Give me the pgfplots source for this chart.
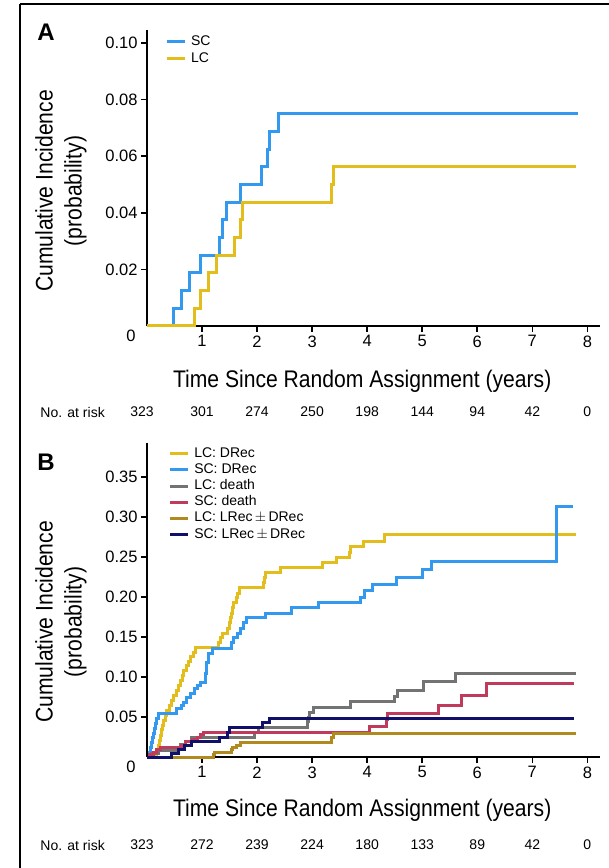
\documentclass[border=0pt]{standalone}
\usepackage{fontspec}
\setmainfont{Liberation Sans}
\newfontfamily\condfont{Liberation Sans}[FakeStretch=0.88]
\usepackage{pgfplots}
\pgfplotsset{compat=1.18}
\definecolor{scblue}{HTML}{3399EE}
\definecolor{lcyellow}{HTML}{E3BD1C}
\definecolor{lcgray}{HTML}{737373}
\definecolor{scred}{HTML}{C03A5C}
\definecolor{lcolive}{HTML}{B08A1E}
\definecolor{scnavy}{HTML}{10106A}
\pgfplotsset{
  kmstyle/.style={
    scale only axis, width=453pt,
    xmin=0, xmax=8.23, ymin=0,
    axis x line*=bottom, axis y line*=left,
    axis line style={-, line width=1.8pt, black},
    tick align=outside, major tick length=6pt,
    tick style={line width=1.6pt, black},
    xtick={1,2,3,4,5,6,7,8},
    extra x ticks={0},
    extra x tick style={major tick length=0pt, tick label style={xshift=-16pt}},
    /pgf/number format/assume math mode=true,
    tick label style={font=\fontsize{16.5}{16.5}\selectfont},
    scaled y ticks=false,
    yticklabel style={/pgf/number format/.cd, fixed, fixed zerofill, precision=2},
    clip=false,
    every axis y label/.style={rotate=90, anchor=center, align=center, font=\condfont\fontsize{24}{29}\selectfont},
    every axis x label/.style={anchor=center, font=\condfont\fontsize{24}{24}\selectfont},
    legend cell align=left,
    legend image code/.code={\draw[#1, line width=3pt] (0pt,0pt) -- (18pt,0pt);},
    legend style={draw=none, fill=none, inner sep=0pt, outer sep=0pt, anchor=north west,
      font=\fontsize{14}{14}\selectfont,
      nodes={inner sep=1pt, text height=10pt, text depth=3pt},
      /tikz/every odd column/.append style={column sep=4pt}},
    const plot, no markers,
    every axis plot/.append style={line width=3pt},
  }
}
\begin{document}
\begin{tikzpicture}
\path[use as bounding box] (0pt,0pt) rectangle (609pt,868pt);
\draw[line width=2pt] (20pt,863.5pt) -- (609pt,863.5pt);
\draw[line width=2pt] (20pt,863.5pt) -- (20pt,0pt);
\node[font=\bfseries\fontsize{24}{24}\selectfont] at (46pt,836pt) {A};
\node[font=\bfseries\fontsize{24}{24}\selectfont] at (46pt,406pt) {B};

% Panel A
\begin{axis}[kmstyle, at={(147pt,542pt)}, anchor=south west, height=296pt,
  ymax=0.1046, ytick={0.02,0.04,0.06,0.08,0.10},
  ylabel={Cumulative Incidence\\(probability)},
  ylabel style={at={(axis description cs:-0.19,0.456)}},
  xlabel={Time Since Random Assignment (years)},
  xlabel style={at={(axis description cs:0.475,-0.186)}},
  legend style={at={(axis description cs:0.04,0.986)}, row sep=2pt}]
\addplot[scblue, line width=3pt] coordinates {(0,0)(0.48,0.00625)(0.63,0.0125)(0.77,0.01875)(0.97,0.025)(1.31,0.03125)(1.38,0.0375)(1.45,0.04375)(1.70,0.05)(2.08,0.05625)(2.19,0.0625)(2.22,0.06875)(2.39,0.075)(7.83,0.075)};
\addlegendentry{SC}
\addplot[lcyellow, line width=3pt] coordinates {(0,0)(0.86,0.00625)(0.97,0.0125)(1.11,0.01875)(1.27,0.025)(1.59,0.03125)(1.69,0.0375)(1.74,0.04375)(3.36,0.05)(3.38,0.05625)(7.79,0.05625)};
\addlegendentry{LC}
\node[font=\fontsize{14}{14}\selectfont, anchor=west] at ([yshift=-86pt]axis description cs:-0.243,0) {No. at risk};
\node[font=\fontsize{14}{14}\selectfont, yshift=-86pt] at (axis cs:-0.09,0) {323};
\node[font=\fontsize{14}{14}\selectfont, yshift=-86pt] at (axis cs:1,0) {301};
\node[font=\fontsize{14}{14}\selectfont, yshift=-86pt] at (axis cs:2,0) {274};
\node[font=\fontsize{14}{14}\selectfont, yshift=-86pt] at (axis cs:3,0) {250};
\node[font=\fontsize{14}{14}\selectfont, yshift=-86pt] at (axis cs:4,0) {198};
\node[font=\fontsize{14}{14}\selectfont, yshift=-86pt] at (axis cs:5,0) {144};
\node[font=\fontsize{14}{14}\selectfont, yshift=-86pt] at (axis cs:6,0) {94};
\node[font=\fontsize{14}{14}\selectfont, yshift=-86pt] at (axis cs:7,0) {42};
\node[font=\fontsize{14}{14}\selectfont, yshift=-86pt] at (axis cs:8,0) {0};
\end{axis}

% Panel B
\begin{axis}[kmstyle, at={(147pt,111pt)}, anchor=south west, height=314pt,
  ymax=0.3925, ytick={0.05,0.10,0.15,0.20,0.25,0.30,0.35},
  ylabel={Cumulative Incidence\\(probability)},
  ylabel style={at={(axis description cs:-0.19,0.43)}},
  xlabel={Time Since Random Assignment (years)},
  xlabel style={at={(axis description cs:0.475,-0.169)}},
  legend style={at={(axis description cs:0.047,0.990)}, row sep=1.2pt}]
\addplot[lcyellow, line width=3pt] coordinates {(0,0)(0.16,0.003)(0.18,0.009)(0.20,0.015)(0.22,0.021)(0.24,0.027)(0.26,0.034)(0.28,0.040)(0.30,0.046)(0.33,0.052)(0.36,0.058)(0.40,0.065)(0.44,0.071)(0.49,0.077)(0.54,0.083)(0.58,0.089)(0.61,0.096)(0.64,0.102)(0.67,0.108)(0.71,0.114)(0.75,0.120)(0.79,0.126)(0.84,0.131)(0.88,0.137)(1.30,0.143)(1.34,0.149)(1.37,0.155)(1.47,0.161)(1.50,0.168)(1.52,0.174)(1.54,0.180)(1.56,0.187)(1.58,0.193)(1.63,0.199)(1.65,0.205)(1.68,0.212)(2.12,0.218)(2.14,0.224)(2.16,0.231)(2.42,0.237)(3.18,0.243)(3.45,0.250)(3.68,0.256)(3.70,0.263)(3.94,0.270)(4.32,0.278)(7.80,0.278)};
\addlegendentry{LC: DRec}
\addplot[scblue, line width=3pt] coordinates {(0,0)(0.04,0.006)(0.06,0.012)(0.08,0.018)(0.10,0.024)(0.12,0.030)(0.14,0.036)(0.16,0.042)(0.18,0.048)(0.20,0.055)(0.54,0.061)(0.62,0.065)(0.67,0.068)(0.72,0.074)(0.79,0.080)(0.86,0.086)(0.92,0.089)(0.98,0.093)(1.07,0.105)(1.09,0.118)(1.11,0.130)(1.19,0.136)(1.53,0.143)(1.58,0.149)(1.64,0.155)(1.70,0.161)(1.76,0.168)(1.80,0.174)(2.16,0.180)(2.62,0.187)(3.12,0.193)(3.88,0.200)(3.96,0.208)(4.10,0.216)(4.54,0.224)(5.01,0.234)(5.16,0.245)(7.44,0.313)(7.74,0.313)};
\addlegendentry{SC: DRec}
\addplot[lcgray, line width=3pt] coordinates {(0,0)(0.08,0.004)(0.20,0.008)(0.55,0.012)(0.60,0.016)(0.70,0.020)(0.80,0.024)(1.96,0.031)(2.02,0.037)(2.91,0.044)(2.93,0.050)(2.96,0.056)(3.02,0.062)(3.70,0.0695)(4.50,0.076)(4.55,0.083)(5.03,0.094)(5.60,0.104)(7.80,0.104)};
\addlegendentry{LC: death}
\addplot[scred, line width=3pt] coordinates {(0,0)(0.05,0.003)(0.12,0.006)(0.18,0.009)(0.25,0.012)(0.62,0.015)(0.70,0.019)(0.83,0.022)(0.92,0.025)(0.98,0.028)(1.02,0.031)(4.05,0.038)(4.35,0.047)(4.37,0.055)(5.30,0.065)(5.72,0.077)(6.16,0.092)(7.75,0.092)};
\addlegendentry{SC: death}
\addplot[lcolive, line width=3pt] coordinates {(0,0)(1.20,0.003)(1.23,0.006)(1.53,0.009)(1.56,0.012)(1.63,0.015)(1.69,0.018)(3.36,0.024)(3.38,0.030)(7.80,0.030)};
\addlegendentry{LC: LRec\,$\pm$\,DRec}
\addplot[scnavy, line width=3pt] coordinates {(0,0)(0.45,0.005)(0.57,0.010)(0.68,0.0145)(0.80,0.019)(1.31,0.025)(1.46,0.031)(1.50,0.037)(2.09,0.043)(2.22,0.0485)(7.76,0.0485)};
\addlegendentry{SC: LRec\,$\pm$\,DRec}
\node[font=\fontsize{14}{14}\selectfont, anchor=west] at ([yshift=-88pt]axis description cs:-0.243,0) {No. at risk};
\node[font=\fontsize{14}{14}\selectfont, yshift=-88pt] at (axis cs:-0.09,0) {323};
\node[font=\fontsize{14}{14}\selectfont, yshift=-88pt] at (axis cs:1,0) {272};
\node[font=\fontsize{14}{14}\selectfont, yshift=-88pt] at (axis cs:2,0) {239};
\node[font=\fontsize{14}{14}\selectfont, yshift=-88pt] at (axis cs:3,0) {224};
\node[font=\fontsize{14}{14}\selectfont, yshift=-88pt] at (axis cs:4,0) {180};
\node[font=\fontsize{14}{14}\selectfont, yshift=-88pt] at (axis cs:5,0) {133};
\node[font=\fontsize{14}{14}\selectfont, yshift=-88pt] at (axis cs:6,0) {89};
\node[font=\fontsize{14}{14}\selectfont, yshift=-88pt] at (axis cs:7,0) {42};
\node[font=\fontsize{14}{14}\selectfont, yshift=-88pt] at (axis cs:8,0) {0};
\end{axis}
\end{tikzpicture}
\end{document}
